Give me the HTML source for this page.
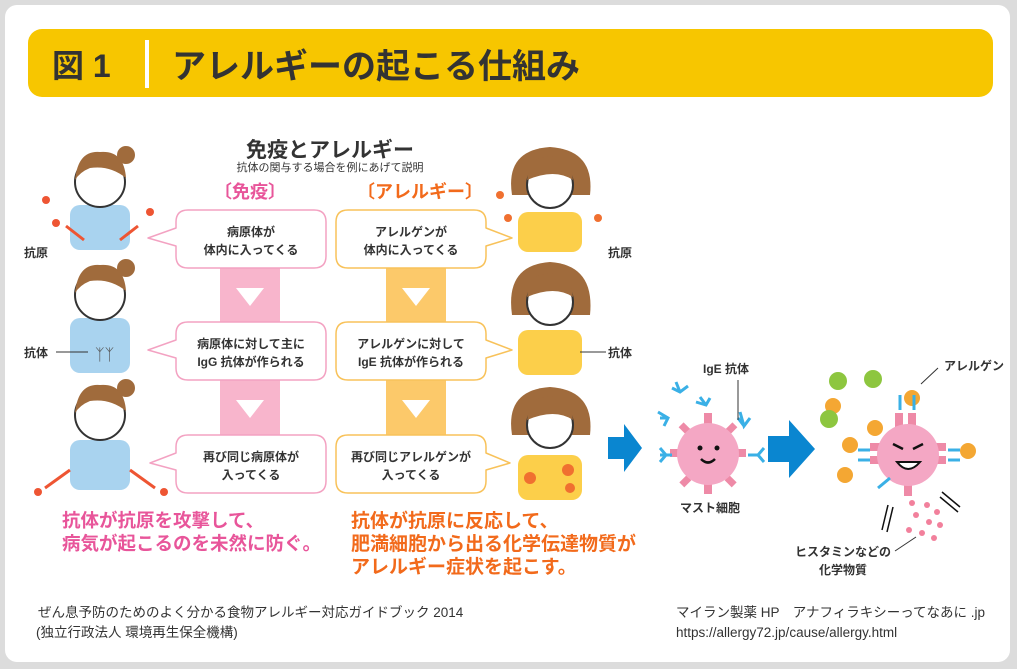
<!DOCTYPE html>
<html><head><meta charset="utf-8"><style>
body{margin:0;background:#e3e3e3;}
svg{display:block}
text{font-family:"Liberation Sans","Noto Sans CJK JP",sans-serif;}
</style></head><body>
<svg width="1017" height="669" viewBox="0 0 1017 669" xmlns="http://www.w3.org/2000/svg">
<rect x="0" y="0" width="1017" height="669" fill="#dcdcdc"/>
<rect x="5" y="5" width="1005" height="657" rx="12" fill="#fff"/>
<rect x="28" y="29" width="965" height="68" rx="14" fill="#f7c600"/>
<text x="52" y="77" font-size="32" font-weight="bold" fill="#333">図 1</text>
<rect x="145" y="40" width="4" height="48" fill="#fff"/>
<text x="172" y="78" font-size="34" font-weight="bold" fill="#333">アレルギーの起こる仕組み</text>

<text x="330" y="157" font-size="21" font-weight="bold" fill="#333" text-anchor="middle">免疫とアレルギー</text>
<text x="330" y="171" font-size="11" fill="#333" text-anchor="middle">抗体の関与する場合を例にあげて説明</text>
<text x="250" y="198" font-size="18" font-weight="bold" fill="#e8559a" text-anchor="middle">〔免疫〕</text>
<text x="420" y="198" font-size="18" font-weight="bold" fill="#f26a1b" text-anchor="middle">〔アレルギー〕</text>

<!-- connector bars -->
<rect x="220" y="266" width="60" height="58" fill="#f8b5cc"/>
<rect x="220" y="378" width="60" height="58" fill="#f8b5cc"/>
<rect x="386" y="266" width="60" height="58" fill="#fcc96a"/>
<rect x="386" y="378" width="60" height="58" fill="#fcc96a"/>
<polygon points="236,288 264,288 250,306" fill="#fff"/>
<polygon points="236,400 264,400 250,418" fill="#fff"/>
<polygon points="402,288 430,288 416,306" fill="#fff"/>
<polygon points="402,400 430,400 416,418" fill="#fff"/>

<!-- bubbles with tails -->
<g fill="#fff" stroke="#f3a2c2" stroke-width="1.5" stroke-linejoin="round">
<path d="M188 210 H314 Q326 210 326 222 V256 Q326 268 314 268 H188 Q176 268 176 256 V246 L148 238 L176 228 V222 Q176 210 188 210Z"/>
<path d="M188 322 H314 Q326 322 326 334 V368 Q326 380 314 380 H188 Q176 380 176 368 V358 L148 350 L176 340 V334 Q176 322 188 322Z"/>
<path d="M188 435 H314 Q326 435 326 447 V481 Q326 493 314 493 H188 Q176 493 176 481 V470 L150 463 L176 453 V447 Q176 435 188 435Z"/>
</g>
<g fill="#fff" stroke="#f8c25a" stroke-width="1.5" stroke-linejoin="round">
<path d="M348 210 H474 Q486 210 486 222 V228 L512 238 L486 246 V256 Q486 268 474 268 H348 Q336 268 336 256 V222 Q336 210 348 210Z"/>
<path d="M348 322 H474 Q486 322 486 334 V340 L512 350 L486 358 V368 Q486 380 474 380 H348 Q336 380 336 368 V334 Q336 322 348 322Z"/>
<path d="M348 435 H474 Q486 435 486 447 V453 L510 463 L486 470 V481 Q486 493 474 493 H348 Q336 493 336 481 V447 Q336 435 348 435Z"/>
</g>
<g font-size="12" font-weight="bold" fill="#333" text-anchor="middle">
<text x="251" y="236">病原体が</text><text x="251" y="254">体内に入ってくる</text>
<text x="251" y="348">病原体に対して主に</text><text x="251" y="366">IgG 抗体が作られる</text>
<text x="251" y="461">再び同じ病原体が</text><text x="251" y="479">入ってくる</text>
<text x="411" y="236">アレルゲンが</text><text x="411" y="254">体内に入ってくる</text>
<text x="411" y="348">アレルゲンに対して</text><text x="411" y="366">IgE 抗体が作られる</text>
<text x="411" y="461">再び同じアレルゲンが</text><text x="411" y="479">入ってくる</text>
</g>

<!-- left people -->
<g>
<rect x="70" y="205" width="60" height="45" rx="10" fill="#a9d3ef"/>
<circle cx="100" cy="182" r="25" fill="#fff" stroke="#333" stroke-width="2"/>
<path d="M75 180 Q78 150 100 152 Q124 150 126 178 Q110 165 90 168 Q80 172 75 180Z" fill="#a06b3c"/>
<circle cx="126" cy="155" r="9" fill="#a06b3c"/>
<circle cx="46" cy="200" r="4" fill="#e53"/><circle cx="56" cy="223" r="4" fill="#e53"/><circle cx="150" cy="212" r="4" fill="#e53"/>
<path d="M66 226 L84 240 M138 226 L120 240" stroke="#e53" stroke-width="3"/>
</g>
<g>
<rect x="70" y="318" width="60" height="55" rx="10" fill="#a9d3ef"/>
<circle cx="100" cy="295" r="25" fill="#fff" stroke="#333" stroke-width="2"/>
<path d="M75 293 Q78 263 100 265 Q124 263 126 291 Q110 278 90 281 Q80 285 75 293Z" fill="#a06b3c"/>
<circle cx="126" cy="268" r="9" fill="#a06b3c"/>
<text x="95" y="360" font-size="16" fill="#555">ᛉᛉ</text>
</g>
<g>
<rect x="70" y="440" width="60" height="50" rx="10" fill="#a9d3ef"/>
<circle cx="100" cy="415" r="25" fill="#fff" stroke="#333" stroke-width="2"/>
<path d="M75 413 Q78 383 100 385 Q124 383 126 411 Q110 398 90 401 Q80 405 75 413Z" fill="#a06b3c"/>
<circle cx="126" cy="388" r="9" fill="#a06b3c"/>
<path d="M70 470 L45 488 M130 470 L155 488" stroke="#e53" stroke-width="3"/>
<circle cx="38" cy="492" r="4" fill="#e53"/><circle cx="164" cy="492" r="4" fill="#e53"/>
</g>
<g font-size="12" font-weight="bold" fill="#333">
<text x="24" y="257">抗原</text>
<text x="24" y="357">抗体</text>
<line x1="56" y1="352" x2="88" y2="352" stroke="#333"/>
</g>

<!-- right people -->
<g>
<rect x="518" y="212" width="64" height="40" rx="10" fill="#fccf4a"/>
<path d="M512 195 Q505 150 550 147 Q595 150 590 195 Z" fill="#a06b3c"/>
<circle cx="550" cy="185" r="23" fill="#fff" stroke="#333" stroke-width="2"/>
<path d="M527 180 Q530 155 550 157 Q570 155 573 180 Q555 168 527 180Z" fill="#a06b3c"/>
<circle cx="500" cy="195" r="4" fill="#f07030"/><circle cx="508" cy="218" r="4" fill="#f07030"/><circle cx="598" cy="218" r="4" fill="#f07030"/>
</g>
<g>
<rect x="518" y="330" width="64" height="45" rx="10" fill="#fccf4a"/>
<path d="M512 315 Q505 265 550 262 Q595 265 590 315 Z" fill="#a06b3c"/>
<circle cx="550" cy="302" r="23" fill="#fff" stroke="#333" stroke-width="2"/>
<path d="M527 297 Q530 272 550 274 Q570 272 573 297 Q555 285 527 297Z" fill="#a06b3c"/>
</g>
<g>
<rect x="518" y="455" width="64" height="45" rx="10" fill="#fccf4a"/>
<path d="M512 435 Q505 390 550 387 Q595 390 590 435 Z" fill="#a06b3c"/>
<circle cx="550" cy="425" r="23" fill="#fff" stroke="#333" stroke-width="2"/>
<path d="M527 420 Q530 395 550 397 Q570 395 573 420 Q555 408 527 420Z" fill="#a06b3c"/>
<circle cx="530" cy="478" r="6" fill="#f07030"/><circle cx="568" cy="470" r="6" fill="#f07030"/><circle cx="570" cy="488" r="5" fill="#f07030"/>
</g>
<g font-size="12" font-weight="bold" fill="#333">
<text x="608" y="257">抗原</text>
<text x="608" y="357">抗体</text>
<line x1="580" y1="352" x2="606" y2="352" stroke="#333"/>
</g>

<!-- blue arrows -->
<polygon points="608,437 624,437 624,424 642,448 624,472 624,459 608,459" fill="#0a86d0"/>
<polygon points="768,436 789,436 789,420 815,449 789,478 789,462 768,462" fill="#0a86d0"/>

<!-- mast cell 1 -->
<g fill="#ee8aa7">
<rect x="704" y="413" width="8" height="12"/><rect x="704" y="482" width="8" height="12"/>
<rect x="670" y="449" width="12" height="8"/><rect x="734" y="449" width="12" height="8"/>
<rect x="680" y="425" width="10" height="7" transform="rotate(45 685 428)"/>
<rect x="726" y="425" width="10" height="7" transform="rotate(-45 731 428)"/>
<rect x="680" y="478" width="10" height="7" transform="rotate(-45 685 481)"/>
<rect x="726" y="478" width="10" height="7" transform="rotate(45 731 481)"/>
</g>
<circle cx="708" cy="454" r="31" fill="#f4a7c4"/>
<circle cx="700" cy="448" r="2.5" fill="#111"/><circle cx="717" cy="448" r="2.5" fill="#111"/>
<path d="M701 459 Q708 466 715 459" stroke="#111" stroke-width="2.5" fill="none"/>
<g stroke="#3ab0e6" stroke-width="3" fill="none">
<path d="M660 455 L672 455 M660 448 L666 455 L660 462"/>
<path d="M748 455 L758 455 M764 448 L758 455 L764 462"/>
<path d="M676 382 L680 392 M672 388 L680 392 L688 386"/>
<path d="M700 397 L706 405 M696 402 L706 405 L710 398"/>
<path d="M660 418 L668 418 M658 412 L668 418 L664 426"/>
<path d="M738 418 L744 426 M740 412 L744 426 L750 418"/>
</g>
<line x1="738" y1="380" x2="738" y2="420" stroke="#333"/>
<text x="726" y="373" font-size="12" font-weight="bold" fill="#333" text-anchor="middle">IgE 抗体</text>
<text x="710" y="512" font-size="12" font-weight="bold" fill="#333" text-anchor="middle">マスト細胞</text>

<!-- mast cell 2 -->
<g fill="#ee8aa7">
<rect x="895" y="413" width="8" height="14"/><rect x="908" y="413" width="8" height="14"/>
<rect x="870" y="443" width="12" height="8"/><rect x="870" y="456" width="12" height="8"/>
<rect x="934" y="443" width="12" height="8"/><rect x="934" y="456" width="12" height="8"/>
<rect x="904" y="484" width="8" height="12"/>
</g>
<circle cx="908" cy="455" r="31" fill="#f4a7c4"/>
<path d="M893 444 L903 449 M923 444 L913 449" stroke="#111" stroke-width="2.5"/>
<path d="M897 462 Q908 476 920 462 Z" fill="#fff" stroke="#111" stroke-width="2"/>
<g fill="#f4a733">
<circle cx="833" cy="406" r="8"/><circle cx="912" cy="398" r="8"/><circle cx="875" cy="428" r="8"/>
<circle cx="850" cy="445" r="8"/><circle cx="968" cy="451" r="8"/><circle cx="845" cy="475" r="8"/>
</g>
<g fill="#8dc63f">
<circle cx="838" cy="381" r="9"/><circle cx="873" cy="379" r="9"/><circle cx="829" cy="419" r="9"/>
</g>
<g stroke="#3ab0e6" stroke-width="3" fill="none">
<path d="M900 395 L900 410 M914 395 L914 410"/>
<path d="M858 450 L870 450 M858 460 L870 460"/>
<path d="M948 450 L960 450 M948 460 L960 460"/>
<path d="M878 488 L890 478"/>
</g>
<g fill="#f2809c">
<circle cx="912" cy="503" r="3"/><circle cx="927" cy="505" r="3"/><circle cx="937" cy="512" r="3"/>
<circle cx="916" cy="515" r="3"/><circle cx="929" cy="522" r="3"/><circle cx="909" cy="530" r="3"/>
<circle cx="922" cy="533" r="3"/><circle cx="940" cy="525" r="3"/><circle cx="934" cy="538" r="3"/>
</g>
<path d="M888 505 L882 530 M893 507 L887 532 M940 497 L958 512 M942 492 L960 507" stroke="#111" stroke-width="1.5"/>
<line x1="921" y1="384" x2="938" y2="368" stroke="#333"/>
<text x="944" y="370" font-size="12" font-weight="bold" fill="#333">アレルゲン</text>
<line x1="895" y1="551" x2="916" y2="537" stroke="#333"/>
<g font-size="12" font-weight="bold" fill="#333" text-anchor="middle">
<text x="843" y="556">ヒスタミンなどの</text><text x="843" y="574">化学物質</text>
</g>

<!-- conclusion text -->
<g font-size="18.5" font-weight="bold" fill="#e8559a">
<text x="62" y="527">抗体が抗原を攻撃して、</text>
<text x="62" y="550">病気が起こるのを未然に防ぐ。</text>
</g>
<g font-size="19" font-weight="bold" fill="#f26a1b">
<text x="351" y="527">抗体が抗原に反応して、</text>
<text x="351" y="550">肥満細胞から出る化学伝達物質が</text>
<text x="351" y="573">アレルギー症状を起こす。</text>
</g>
<g font-size="13.5" fill="#333">
<text x="38" y="617">ぜん息予防のためのよく分かる食物アレルギー対応ガイドブック 2014</text>
<text x="36" y="637">(独立行政法人 環境再生保全機構)</text>
<text x="676" y="617">マイラン製薬 HP　アナフィラキシーってなあに .jp</text>
<text x="676" y="637">https://allergy72.jp/cause/allergy.html</text>
</g>
</svg>
</body></html>
